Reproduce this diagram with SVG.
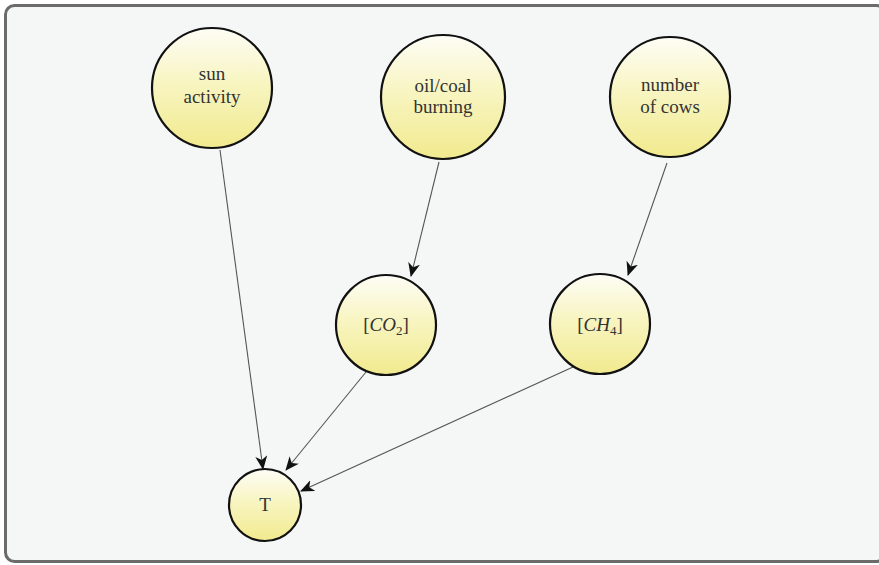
<svg xmlns="http://www.w3.org/2000/svg" width="879" height="565" viewBox="0 0 879 565">
  <defs>
    <linearGradient id="nodeFill" x1="0" y1="0" x2="0" y2="1">
      <stop offset="0" stop-color="#fdfdf6"/>
      <stop offset="0.45" stop-color="#f8f5c2"/>
      <stop offset="1" stop-color="#f1ea8e"/>
    </linearGradient>
    <marker id="arrow" viewBox="0 0 14 12" refX="13" refY="6" markerWidth="14" markerHeight="12" markerUnits="userSpaceOnUse" orient="auto">
      <path d="M0,0 L14,6 L0,12 L4,6 Z" fill="#111"/>
    </marker>
  </defs>
  <style>
    .node circle { fill: url(#nodeFill); stroke: #111; stroke-width: 2.2; }
    .node text { font-family: "Liberation Serif", "DejaVu Serif", serif; font-size: 19px; fill: #333; text-anchor: middle; }
    .edges line { stroke: #555; stroke-width: 1.1; marker-end: url(#arrow); }
  </style>

  <!-- frame -->
  <rect x="5.5" y="5.5" width="880" height="556" rx="9" ry="9" fill="#f5f7f7" stroke="#6b6b6b" stroke-width="3"/>

  <g class="edges">
    <line x1="220" y1="150" x2="263" y2="469"/>
    <line x1="439" y1="162" x2="411" y2="276"/>
    <line x1="667" y1="163" x2="628" y2="275"/>
    <line x1="366" y1="372" x2="286" y2="470"/>
    <line x1="573" y1="367" x2="301" y2="491"/>
  </g>

  <g id="sun" class="node">
    <circle cx="212" cy="88" r="60"/>
    <text x="212" y="80">sun</text>
    <text x="212" y="103">activity</text>
  </g>

  <g id="oilcoal" class="node">
    <circle cx="443" cy="97" r="62"/>
    <text x="443" y="92">oil/coal</text>
    <text x="443" y="113">burning</text>
  </g>

  <g id="cows" class="node">
    <circle cx="670" cy="97" r="60"/>
    <text x="670" y="91">number</text>
    <text x="670" y="113">of cows</text>
  </g>

  <g id="co2" class="node">
    <circle cx="386" cy="325" r="50"/>
    <text x="386" y="331">[<tspan font-style="italic">CO</tspan><tspan font-size="13" dy="4">2</tspan><tspan dy="-4">]</tspan></text>
  </g>

  <g id="ch4" class="node">
    <circle cx="600" cy="324" r="50"/>
    <text x="600" y="331">[<tspan font-style="italic">CH</tspan><tspan font-size="13" dy="4">4</tspan><tspan dy="-4">]</tspan></text>
  </g>

  <g id="T" class="node">
    <circle cx="265" cy="505" r="36"/>
    <text x="265" y="511">T</text>
  </g>
</svg>
